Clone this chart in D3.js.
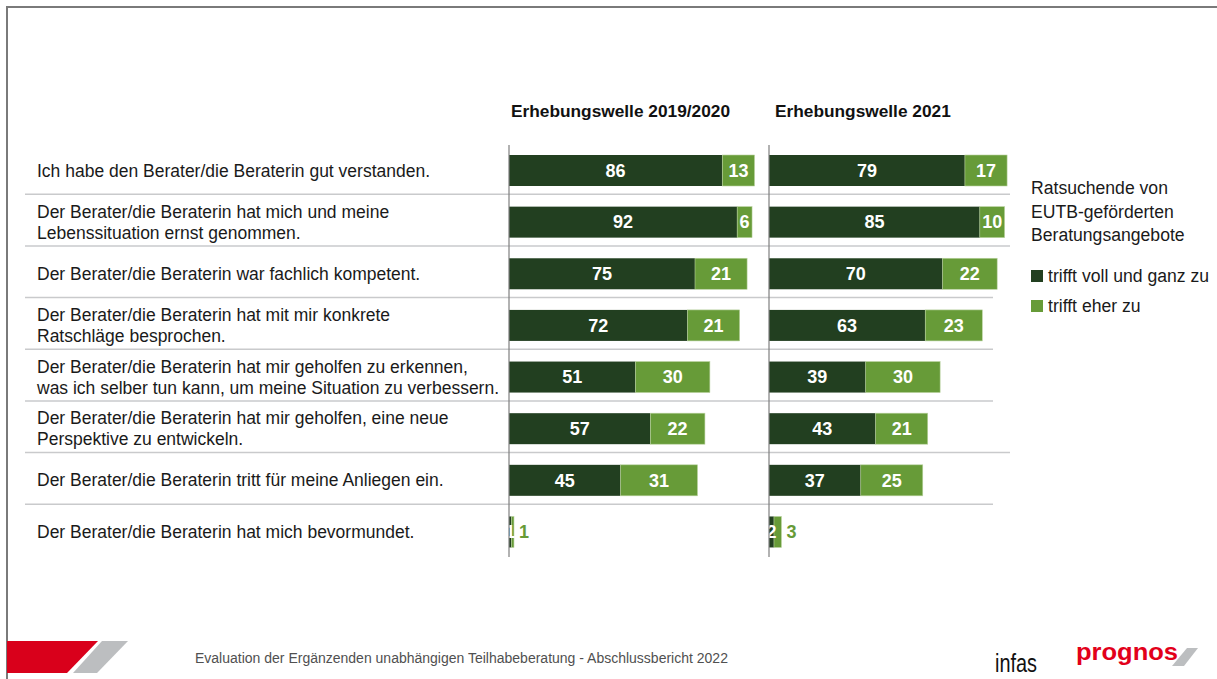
<!DOCTYPE html>
<html>
<head>
<meta charset="utf-8">
<script src="https://cdn.jsdelivr.net/npm/d3@7"></script>
<style>
  html, body { margin: 0; padding: 0; background: #fff; }
  svg { display: block; font-family: "Liberation Sans", Arial, sans-serif; }
</style>
</head>
<body>
<svg id="chart" width="1217" height="679"></svg>
<script>
// Statements rated by people seeking advice
const statements = [
  ["Ich habe den Berater/die Beraterin gut verstanden."],
  ["Der Berater/die Beraterin hat mich und meine", "Lebenssituation ernst genommen."],
  ["Der Berater/die Beraterin war fachlich kompetent."],
  ["Der Berater/die Beraterin hat mit mir konkrete", "Ratschläge besprochen."],
  ["Der Berater/die Beraterin hat mir geholfen zu erkennen,", "was ich selber tun kann, um meine Situation zu verbessern."],
  ["Der Berater/die Beraterin hat mir geholfen, eine neue", "Perspektive zu entwickeln."],
  ["Der Berater/die Beraterin tritt für meine Anliegen ein."],
  ["Der Berater/die Beraterin hat mich bevormundet."]
];

// Survey waves (panel headers)
const waves = ["Erhebungswelle 2019/2020", "Erhebungswelle 2021"];

// Percentages per wave: "trifft voll und ganz zu" and "trifft eher zu"
const fullyAgree2019 = [86, 92, 75, 72, 51, 57, 45, 1];
const ratherAgree2019 = [13, 6, 21, 21, 30, 22, 31, 1];
const fullyAgree2021 = [79, 85, 70, 63, 39, 43, 37, 2];
const ratherAgree2021 = [17, 10, 22, 23, 30, 21, 25, 3];

const seriesNames = ["trifft voll und ganz zu", "trifft eher zu"];
const legendTitle = ["Ratsuchende von", "EUTB-geförderten", "Beratungsangebote"];
const footerText = "Evaluation der Ergänzenden unabhängigen Teilhabeberatung - Abschlussbericht 2022";

const colors = { full: "#223f20", rather: "#679b38" };

const svg = d3.select("#chart");

// Slide frame (left and top edge)
svg.append("line").attr("x1", 7).attr("x2", 1217).attr("y1", 7).attr("y2", 7)
  .attr("stroke", "#7a7a7a").attr("stroke-width", 2);
svg.append("line").attr("x1", 7).attr("x2", 7).attr("y1", 6).attr("y2", 679)
  .attr("stroke", "#7a7a7a").attr("stroke-width", 2);

const rowIdx = d3.range(statements.length);
const y = d3.scaleBand().domain(rowIdx).range([142.7, 555.8]).padding(0);
const barH = 31;
const barTop = i => y(i) + 12.3;

// Separator lines between rows (some run under the wider second panel)
const sepEnd = [1010, 1010, 993, 993, 993, 1010, 993];
svg.append("g").selectAll("line").data(rowIdx.slice(1)).join("line")
  .attr("x1", 25).attr("x2", (d, i) => sepEnd[i])
  .attr("y1", d => y(d)).attr("y2", d => y(d))
  .attr("stroke", "#c9cacc").attr("stroke-width", 1.5);

// Row labels
const labels = svg.append("g").attr("font-size", 17.5).attr("fill", "#1a1a1a");
statements.forEach((lines, i) => {
  const cy = barTop(i) + barH / 2;
  const lh = 21;
  const t = labels.append("text").attr("x", 37);
  lines.forEach((ln, k) => {
    t.append("tspan").attr("x", 37)
      .attr("y", cy + (k - (lines.length - 1) / 2) * lh)
      .attr("dy", "0.35em").text(ln);
  });
});

// Panels
const panels = [
  { x0: 509, full: fullyAgree2019, rather: ratherAgree2019, title: waves[0], titleX: 511 },
  { x0: 769, full: fullyAgree2021, rather: ratherAgree2021, title: waves[1], titleX: 775 }
];

panels.forEach(p => {
  const x = d3.scaleLinear().domain([0, 100]).range([p.x0, p.x0 + 248]);
  const g = svg.append("g");

  g.append("text").attr("x", p.titleX).attr("y", 111).attr("dy", "0.35em")
    .attr("font-size", 17.3).attr("font-weight", "bold").attr("fill", "#111")
    .text(p.title);

  const rows = rowIdx.map(i => ({ i, full: p.full[i], rather: p.rather[i] }));

  // "trifft voll und ganz zu" segment
  g.selectAll("rect.full").data(rows).join("rect").attr("class", "full")
    .attr("x", x(0)).attr("y", d => barTop(d.i))
    .attr("width", d => x(d.full) - x(0)).attr("height", barH)
    .attr("fill", colors.full);

  // "trifft eher zu" segment
  g.selectAll("rect.rather").data(rows).join("rect").attr("class", "rather")
    .attr("x", d => x(d.full)).attr("y", d => barTop(d.i))
    .attr("width", d => x(d.full + d.rather) - x(d.full)).attr("height", barH)
    .attr("fill", colors.rather)
    .attr("stroke", "#b9d29f").attr("stroke-width", 0.6);

  // Value labels
  const lab = g.append("g").attr("font-size", 18).attr("font-weight", "bold");
  rows.forEach(d => {
    const cy = barTop(d.i) + barH / 2;
    lab.append("text").attr("x", (x(0) + x(d.full)) / 2).attr("y", cy)
      .attr("dy", "0.35em").attr("text-anchor", "middle").attr("fill", "#fff")
      .text(d.full);
    const w = x(d.full + d.rather) - x(d.full);
    if (w >= 12) {
      lab.append("text").attr("x", (x(d.full) + x(d.full + d.rather)) / 2).attr("y", cy)
        .attr("dy", "0.35em").attr("text-anchor", "middle").attr("fill", "#fff")
        .text(d.rather);
    } else {
      lab.append("text").attr("x", x(d.full + d.rather) + 5).attr("y", cy)
        .attr("dy", "0.35em").attr("text-anchor", "start").attr("fill", colors.rather)
        .text(d.rather);
    }
  });

  // Baseline of the panel
  g.append("line").attr("x1", x(0)).attr("x2", x(0)).attr("y1", 145).attr("y2", 557)
    .attr("stroke", "#7f7f7f").attr("stroke-width", 1.2);
});

// Legend
const lg = svg.append("g").attr("font-size", 17.6).attr("fill", "#1a1a1a");
legendTitle.forEach((t, k) => {
  lg.append("text").attr("x", 1031).attr("y", 188 + k * 23.5).attr("dy", "0.35em").text(t);
});
[colors.full, colors.rather].forEach((c, k) => {
  lg.append("rect").attr("x", 1031).attr("y", 270 + k * 30).attr("width", 12).attr("height", 12).attr("fill", c);
  lg.append("text").attr("x", 1048).attr("y", 276 + k * 30).attr("dy", "0.35em").text(seriesNames[k]);
});

// Footer band
svg.append("polygon").attr("points", "7,641 98,641 67,673 7,673").attr("fill", "#d9001b");
svg.append("polygon").attr("points", "102,641 128,641 97,673 73,673").attr("fill", "#bcbec0");
svg.append("text").attr("x", 195).attr("y", 658).attr("dy", "0.35em")
  .attr("font-size", 14).attr("fill", "#505050").text(footerText);

// Logos
svg.append("text").attr("x", 995).attr("y", 672)
  .attr("font-family", "'Liberation Sans Narrow', 'Arial Narrow', sans-serif")
  .attr("font-size", 26).attr("fill", "#111")
  .attr("textLength", 42).attr("lengthAdjust", "spacingAndGlyphs").text("infas");
svg.append("polygon").attr("points", "1187,648 1198,648 1184,666 1172,666").attr("fill", "#bcbec0");
svg.append("text").attr("x", 1076).attr("y", 660)
  .attr("font-size", 23).attr("font-weight", "bold").attr("fill", "#e2001a")
  .attr("textLength", 102).attr("lengthAdjust", "spacingAndGlyphs").text("prognos");
</script>
</body>
</html>
